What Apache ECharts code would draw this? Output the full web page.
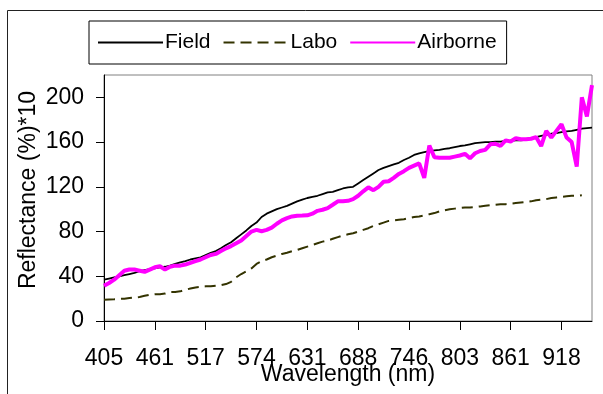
<!DOCTYPE html>
<html>
<head>
<meta charset="utf-8">
<script src="https://cdn.jsdelivr.net/npm/echarts@6/dist/echarts.min.js"></script>
<style>
  html, body { margin: 0; padding: 0; background: #fff; }
  #chart { width: 603px; height: 394px; }
</style>
</head>
<body>
<div id="chart"></div>
<script>
// wavelengths (nm), one per band
var wavelengths = [
  405, 411, 416, 422, 427, 433, 439, 444, 450, 455,
  461, 467, 472, 478, 483, 489, 495, 500, 506, 511,
  517, 523, 528, 534, 540, 546, 551, 557, 563, 568,
  574, 580, 585, 591, 597, 603, 608, 614, 620, 625,
  631, 637, 642, 648, 654, 660, 665, 671, 677, 682,
  688, 694, 700, 705, 711, 717, 723, 729, 734, 740,
  746, 752, 757, 763, 769, 775, 780, 786, 792, 797,
  803, 809, 815, 820, 826, 832, 838, 844, 849, 855,
  861, 867, 872, 878, 884, 890, 895, 901, 907, 912,
  918, 924, 930, 935, 941, 947, 953
];

var fieldValues = [
  37, 38, 39, 40, 41, 42, 43, 44.5, 45.5, 46.5,
  47, 48, 48.5, 49.5, 51, 52.5, 53.5, 55, 56, 57,
  59, 61, 62.5, 65, 68, 70.5, 74, 77.5, 81, 85,
  88, 93, 96, 98, 100, 101.5, 103, 105, 107, 108.5,
  110, 111, 112, 113.5, 115, 115.5, 117, 118.5, 119.5, 120,
  123, 126, 129, 132, 135, 137, 138.5, 140, 141.5, 144,
  146, 148.5, 150, 151, 152, 152.5, 153, 154, 154.5, 155.5,
  156.5, 157, 158, 159, 159.5, 160, 160, 160.5, 160.5, 161,
  161, 161.5, 161.5, 162, 163, 164.5, 165.5, 166.5, 167.5, 168,
  169, 169.5, 170, 171, 172, 172.5, 173
];

var laboValues = [
  19, 19.3, 19.5, 19.8, 20, 20.5, 21, 21.5, 22.5, 23.5,
  24, 24, 24.5, 26, 26, 26.5, 28, 29, 30, 30.5,
  31, 31, 31.5, 32, 33, 35, 39, 42, 44.5, 47,
  51, 53.5, 55, 57, 58.5, 60, 61, 62.5, 63.5, 65,
  66.5, 68, 69.5, 71, 72, 73.5, 75, 76.5, 77.5, 78.5,
  80, 81.5, 83, 85, 86.5, 88, 89.5, 90, 90.5, 91,
  92, 93, 93.5, 94.5, 95.5, 96.5, 98, 99, 100, 100.5,
  101, 101.5, 101.5, 102, 102.5, 103, 103.5, 104, 104.5, 104.5,
  105, 105.5, 106, 106.5, 107, 108, 108.5, 109, 110, 110.5,
  111, 111.5, 112, 112, 112.5, null, null
];

var airborneValues = [
  31.5, 34, 37, 41, 45, 46, 46, 45, 44, 46,
  48, 49, 46, 48.5, 49.5, 49.5, 50.5, 52, 53.5, 55,
  57, 59, 60, 62.5, 65, 67, 69.5, 72, 76, 80,
  81.5, 80.3, 81.5, 83.5, 87, 90, 92, 93.5, 94.2, 94.3,
  94.5, 96, 98.5, 99.5, 101, 104, 107, 107, 107.5, 109,
  112, 116, 119.5, 117, 120, 124.5, 125, 128, 131.5, 134,
  137, 139, 141, 128, 157, 146.5, 146, 146, 146, 147,
  148, 149.5, 145.5, 150, 152, 153, 158, 158.5, 156.5, 161.5,
  160.5, 163.5, 162.5, 162.5, 163, 164.5, 156.5, 170, 164, 170,
  176, 164, 160, 138, 200, 183, 211
];

var yTicks = [0, 40, 80, 120, 160, 200];

var chart = echarts.init(document.getElementById('chart'), null, { renderer: 'canvas' });

var font = '"Liberation Sans", Arial, sans-serif';

var option = {
  backgroundColor: '#fff',
  animation: false,
  graphic: [{
    type: 'rect',
    shape: { x: 7.5, y: 10.5, width: 700, height: 500 },
    style: { fill: 'none', stroke: '#222', lineWidth: 1 },
    z: -1
  }],
  legend: {
    left: 89,
    top: 21,
    padding: [11, 10, 11, 8],
    borderColor: '#000',
    borderWidth: 1,
    itemWidth: 65,
    itemHeight: 14,
    itemGap: 12,
    itemStyle: { opacity: 0 },
    textStyle: { fontFamily: font, fontSize: 21, color: '#000', padding: [0, 0, 0, -3] },
    data: ['Field', 'Labo', 'Airborne']
  },
  grid: {
    left: 104,
    right: 11,
    top: 75,
    bottom: 73,
    outerBoundsMode: 'none',
    containLabel: false,
    show: true,
    borderColor: '#808080',
    borderWidth: 1,
    backgroundColor: '#fff'
  },
  xAxis: {
    type: 'category',
    data: wavelengths,
    boundaryGap: false,
    name: 'Wavelength (nm)',
    nameLocation: 'middle',
    nameGap: 42,
    nameMoveOverlap: false,
    nameTextStyle: { fontFamily: font, fontSize: 23, color: '#000' },
    axisLine: { lineStyle: { color: '#000', width: 1 } },
    axisTick: { interval: 9, length: 9, lineStyle: { color: '#000' } },
    axisLabel: { interval: 9, margin: 26, fontFamily: font, fontSize: 23, color: '#000' },
    splitLine: { show: false }
  },
  yAxis: {
    type: 'value',
    min: 0,
    max: 220,
    interval: 40,
    name: 'Reflectance (%)*10',
    nameLocation: 'middle',
    nameGap: 64,
    nameMoveOverlap: false,
    nameTextStyle: { fontFamily: font, fontSize: 23, color: '#000', padding: [0, 0, 0, 16] },
    axisLine: { show: true, lineStyle: { color: '#000', width: 1 } },
    axisTick: { show: true, length: 8, customValues: yTicks, lineStyle: { color: '#000' } },
    axisLabel: { margin: 20, customValues: yTicks, fontFamily: font, fontSize: 23, color: '#000' },
    splitLine: { show: false }
  },
  series: [{
    name: 'Field',
    type: 'line',
    data: fieldValues,
    symbol: 'none',
    color: '#000',
    lineStyle: { color: '#000', width: 1.8 },
    z: 3
  }, {
    name: 'Labo',
    type: 'line',
    data: laboValues,
    symbol: 'none',
    color: '#333300',
    lineStyle: { color: '#333300', width: 2, type: [11, 6] },
    z: 2
  }, {
    name: 'Airborne',
    type: 'line',
    data: airborneValues,
    symbol: 'none',
    color: '#ff00ff',
    lineStyle: { color: '#ff00ff', width: 4 },
    z: 4
  }]
};

chart.setOption(option);
</script>
</body>
</html>
